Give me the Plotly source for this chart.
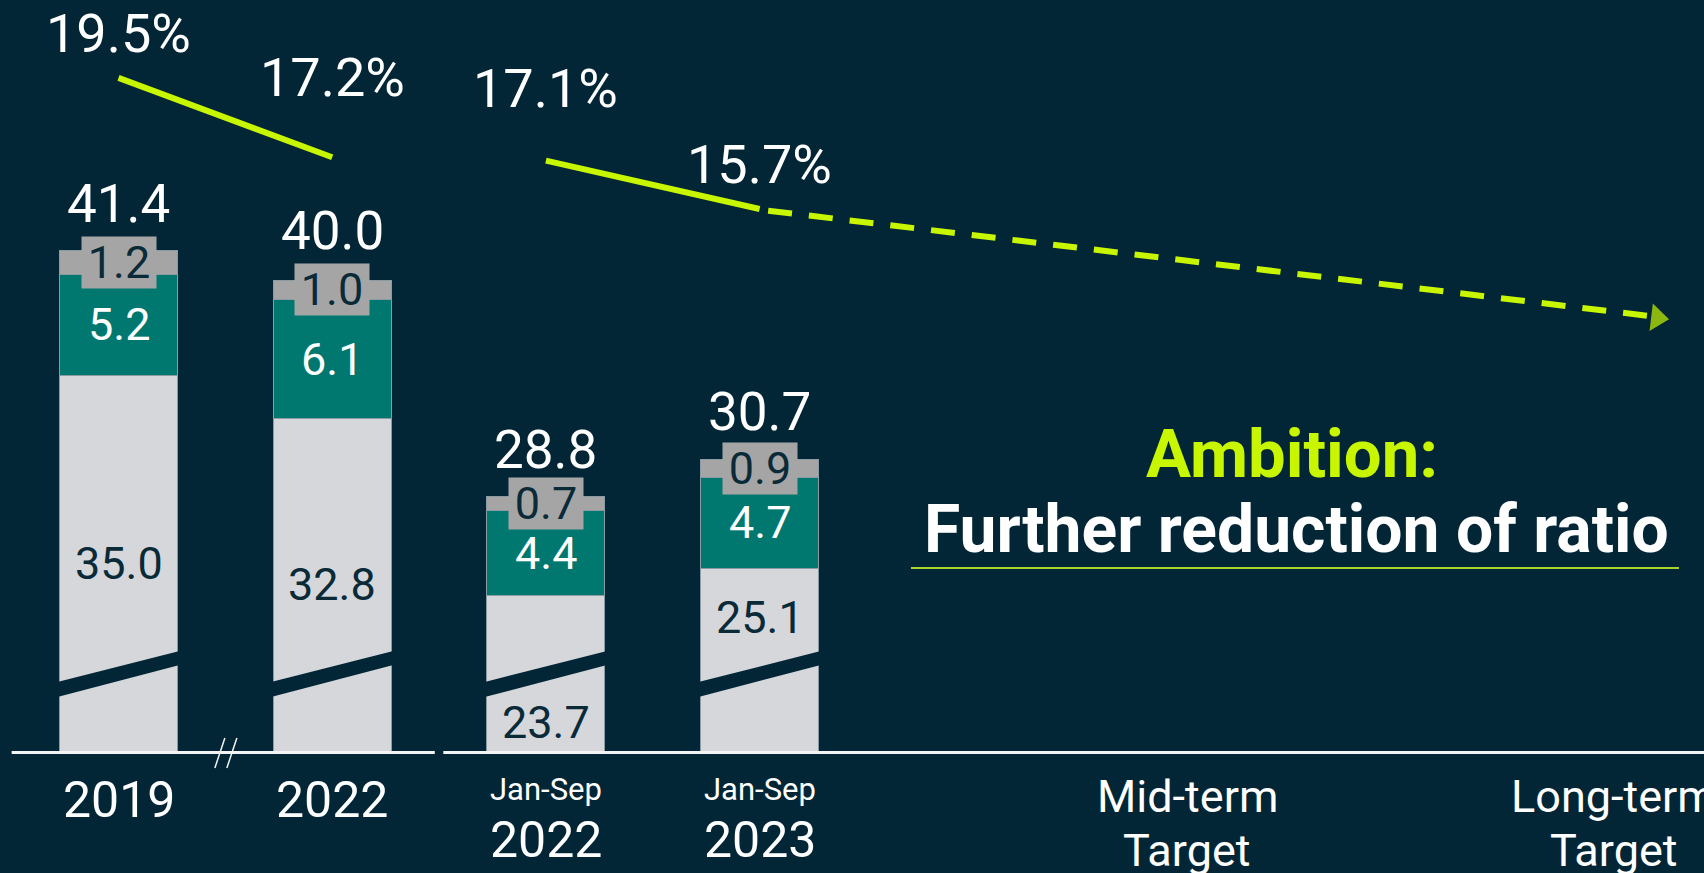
import plotly.graph_objects as go

# ---- data ----
CATEGORIES = ["2019", "2022", "Jan-Sep 2022", "Jan-Sep 2023", "Mid-term Target", "Long-term Target"]
X_SLOTS = [0, 1, 2, 3, 5, 7]            # slot of each category on the x axis
BASE_COST = [35.0, 32.8, 23.7, 25.1]    # light grey segment
MID_COST = [5.2, 6.1, 4.4, 4.7]         # teal segment
TOP_COST = [1.2, 1.0, 0.7, 0.9]         # grey segment
TOTALS = [41.4, 40.0, 28.8, 30.7]
RATIO = [19.5, 17.2, 17.1, 15.7]        # %
AMBITION_END = 12.6                     # illustrative end of the ambition arrow

# ---- look ----
BG = "#022636"
LIGHT = "#D5D7DB"
TEAL = "#00786F"
GREY = "#A5A5A5"
LIME = "#C8F500"
NAVY = "#0A2A38"
WHITE = "#FFFFFF"
FONT = "Roboto"

W, H = 1704, 873
PLOT_H = 751                      # px height of plot area (axis line at bottom)
PX_PER_UNIT = 19.5
Y_MIN = 15.75
Y_RANGE = [Y_MIN, Y_MIN + PLOT_H / PX_PER_UNIT]
X0_PX, SLOT_PX = 118.5, 213.7
X_RANGE = [-X0_PX / SLOT_PX, (W - X0_PX) / SLOT_PX]
Y2_RANGE = [-0.02, 21.76]
BAR_W = 0.552


def py(px):
    """pixel row -> paper y"""
    return 1 - px / PLOT_H


def dy(px):
    """pixel row -> data y on the bar axis"""
    return Y_MIN + (PLOT_H - px) / PX_PER_UNIT


bx = X_SLOTS[:4]
fig = go.Figure()
edge = dict(width=1, color="#8A9BA3")
fig.add_trace(go.Bar(x=bx, y=BASE_COST, marker=dict(color=LIGHT, line=edge), width=BAR_W, hoverinfo="skip"))
fig.add_trace(go.Bar(x=bx, y=MID_COST, marker=dict(color=TEAL, line=edge), width=BAR_W, hoverinfo="skip"))
fig.add_trace(go.Bar(x=bx, y=TOP_COST, marker=dict(color=GREY, line=edge), width=BAR_W, hoverinfo="skip"))

# ratio line (solid for actuals, dashed arrow for ambition)
for a, b in [(0, 2), (2, 4)]:
    fig.add_trace(go.Scatter(x=X_SLOTS[a:b], y=RATIO[a:b], yaxis="y2", mode="lines",
                             line=dict(color=LIME, width=6), hoverinfo="skip"))
fig.add_trace(go.Scatter(
    x=[X_SLOTS[3] + 0.04, X_SLOTS[5] + 0.16], y=[RATIO[3] - 0.05, AMBITION_END], yaxis="y2",
    mode="lines", line=dict(color=LIME, width=6, dash="24px,17px"), hoverinfo="skip"))
# arrow head
fig.add_trace(go.Scatter(
    x=[X_SLOTS[3] + 0.04, X_SLOTS[5] + 0.2], y=[RATIO[3] - 0.05, AMBITION_END - 0.06], yaxis="y2",
    mode="markers",
    marker=dict(symbol="triangle-up", size=[0, 24], color=LIME, angleref="previous", line=dict(width=0)),
    hoverinfo="skip"))

shapes = []
# broken-axis bands on each bar
b_lt, b_rt, b_rb, b_lb = dy(682), dy(651), dy(665), dy(697)
for x in bx:
    l, r = x - BAR_W / 2 - 0.01, x + BAR_W / 2 + 0.01
    shapes.append(dict(type="path", xref="x", yref="y", line=dict(width=0), fillcolor=BG,
                       path=f"M {l},{b_lt} L {r},{b_rt} L {r},{b_rb} L {l},{b_lb} Z"))

# axis line with a gap between full years and Jan-Sep
for x0, x1 in [(-0.5, 1.48), (1.52, X_RANGE[1])]:
    shapes.append(dict(type="line", xref="x", yref="paper", x0=x0, x1=x1, y0=py(752.5), y1=py(752.5),
                       line=dict(color="#F2F4F5", width=3)))
# // axis break between 2019 and 2022
for off in (-5.5, 6.5):
    shapes.append(dict(type="line", xref="x", yref="paper", xsizemode="pixel", xanchor=0.5,
                       ysizemode="pixel", yanchor=py(752),
                       x0=off - 5, x1=off + 5, y0=-16, y1=14, line=dict(color="#F2F4F5", width=1.5)))
# underline of the ambition text
shapes.append(dict(type="line", xref="paper", yref="paper", x0=911 / W, x1=1679 / W,
                   y0=py(568), y1=py(568), line=dict(color="#A8D42A", width=2)))

ann = []


def label(x, y, text, size, color, **kw):
    d = dict(x=x, y=y, text=text, showarrow=False, xref="x", yref="y",
             xanchor="center", yanchor="middle",
             font=dict(family=FONT, size=size, color=color))
    d.update(kw)
    ann.append(d)


# segment labels
for i, x in enumerate(bx):
    top_break = (b_lt + b_rt) / 2
    if i == 2:
        yb = (Y_MIN + b_lb) / 2 + 0.1
    elif i == 3:
        yb = (top_break + BASE_COST[i]) / 2
    else:
        yb = (Y_MIN + BASE_COST[i]) / 2
    label(x, yb, f"{BASE_COST[i]:.1f}", 45, NAVY)
    label(x, BASE_COST[i] + MID_COST[i] / 2, f"{MID_COST[i]:.1f}", 45, WHITE)
    label(x, BASE_COST[i] + MID_COST[i] + TOP_COST[i] / 2, f"{TOP_COST[i]:.1f}", 45, NAVY,
          bgcolor=GREY, width=74, height=51, borderpad=0)
    label(x, TOTALS[i], f"{TOTALS[i]:.1f}", 53, WHITE, yanchor="bottom", yshift=14)

# ratio labels
ratio_shift = [44, 80, 72, 44]
for i, x in enumerate(bx):
    label(x, RATIO[i], f"{RATIO[i]:.1f}%", 54, WHITE, yref="y2", yshift=ratio_shift[i])

# x-axis category labels
for i, x in enumerate(X_SLOTS):
    cat = CATEGORIES[i]
    if cat.startswith("Jan-Sep"):
        label(x, py(789), "Jan-Sep", 31, WHITE, yref="paper")
        label(x, py(840), cat.split()[-1], 50, WHITE, yref="paper")
    elif cat.endswith("Target"):
        label(x, py(796), cat.split()[0], 45, WHITE, yref="paper")
        label(x, py(851), "Target", 45, WHITE, yref="paper")
    else:
        label(x, py(800), cat, 50, WHITE, yref="paper")

# ambition text
ann.append(dict(x=1292 / W, y=py(454), xref="paper", yref="paper", text="<b>Ambition:</b>",
                xanchor="center", yanchor="middle",
                showarrow=False, font=dict(family=FONT, size=67, color=LIME)))
ann.append(dict(x=1296 / W, y=py(529), xref="paper", yref="paper", text="<b>Further reduction of ratio</b>",
                xanchor="center", yanchor="middle",
                showarrow=False, font=dict(family=FONT, size=66, color=WHITE)))

fig.update_layout(
    width=W, height=H,
    barmode="stack",
    showlegend=False,
    paper_bgcolor=BG, plot_bgcolor=BG,
    margin=dict(l=0, r=0, t=0, b=H - PLOT_H),
    xaxis=dict(range=X_RANGE, visible=False, fixedrange=True),
    yaxis=dict(range=Y_RANGE, visible=False, fixedrange=True),
    yaxis2=dict(range=Y2_RANGE, overlaying="y", visible=False, fixedrange=True),
    shapes=shapes,
    annotations=ann,
)

fig.write_html("out.html", config={"displayModeBar": False},
               post_script="document.body.style.margin='0';document.body.style.background='" + BG + "';")
